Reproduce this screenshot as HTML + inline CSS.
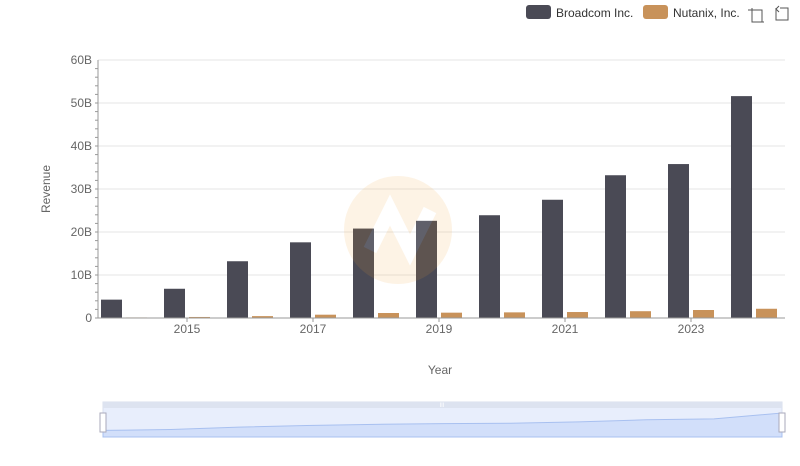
<!DOCTYPE html>
<html><head><meta charset="utf-8"><style>
body{margin:0;background:#fff;font-family:"Liberation Sans",sans-serif}
svg text{font-family:"Liberation Sans",sans-serif}
</style></head><body>
<svg width="800" height="461">
<g>
<g><rect x="526" y="5" width="25" height="14" rx="3" fill="#4a4a55"/><text x="556" y="17" font-size="12" fill="#333">Broadcom Inc.</text></g>
<g><rect x="643" y="5" width="25" height="14" rx="3" fill="#c8925a"/><text x="673" y="17" font-size="12" fill="#333">Nutanix, Inc.</text></g>
</g>
<g stroke="#555" fill="none"><path d="M748 10h14v12M752 8v14h12"/></g>
<g stroke="#555" fill="none"><path d="M776 8v12h12V8h-8M779 6l-3 3 3 3"/></g>
<g id="grid"></g>
<g id="yaxis"></g>
<g id="bars"></g>
<g id="xaxis"></g>
<text x="50" y="189" font-size="12" fill="#666" text-anchor="middle" transform="rotate(-90 50 189)">Revenue</text>
<text x="440" y="374" font-size="12" fill="#666" text-anchor="middle">Year</text>
<g opacity="0.12"><circle cx="398" cy="230" r="54" fill="#f0a030"/><path d="M370 250l20-40 20 40 20-40" stroke="#fff" stroke-width="14" fill="none"/></g>
<g>
<rect x="103" y="402" width="679" height="35" fill="#e8eefc" stroke="#d8dfee"/>
<rect x="103" y="402" width="679" height="6" fill="#dde3f0"/>
<path id="minipath" fill="#d2dffa" stroke="#a8c0f0"/>
<text x="442" y="407" font-size="6" fill="#fff" text-anchor="middle">III</text>
<rect x="100" y="413" width="6" height="19" fill="#fff" stroke="#aab"/>
<rect x="779" y="413" width="6" height="19" fill="#fff" stroke="#aab"/>
</g>
</svg>
<script>
const years=["2014","2015","2016","2017","2018","2019","2020","2021","2022","2023","2024"];
const broadcom=[4.27,6.8,13.2,17.6,20.8,22.6,23.9,27.5,33.2,35.8,51.6];
const nutanix=[0.13,0.24,0.44,0.77,1.16,1.24,1.31,1.39,1.58,1.86,2.15];
const yTicks=[0,10,20,30,40,50,60];
const yTickLabels=["0","10B","20B","30B","40B","50B","60B"];
const NS="http://www.w3.org/2000/svg";
const y=v=>318-v*4.3;
const bx=i=>98+i*63;
function mk(t,a,p){const e=document.createElementNS(NS,t);for(const k in a)e.setAttribute(k,a[k]);p.appendChild(e);return e;}
const grid=document.getElementById('grid'),ya=document.getElementById('yaxis'),bars=document.getElementById('bars'),xa=document.getElementById('xaxis');
yTicks.forEach((v,i)=>{
 if(v>0){const g=mk('line',{x1:98,x2:785,y1:y(v),y2:y(v),stroke:'#e6e6e6'},grid);
 
 }
 const t=mk('text',{x:92,y:y(v)+4,'font-size':12,fill:'#666','text-anchor':'end'},ya);t.textContent=yTickLabels[i];
 
 
});
for(let v=0;v<60;v+=2){mk('line',{x1:95,x2:98,y1:y(v),y2:y(v),stroke:'#999'},ya);}
mk('line',{x1:98,x2:98,y1:60,y2:318,stroke:'#999'},ya);
years.forEach((yr,i)=>{
 const b=mk('rect',{x:bx(i)+3,y:y(broadcom[i]),width:21,height:318-y(broadcom[i]),fill:'#4a4a55'},bars);
 
 
 const n=mk('rect',{x:bx(i)+28,y:y(nutanix[i]),width:21,height:318-y(nutanix[i]),fill:'#c8925a'},bars);
 
 
 if(i%2==1){const t=mk('text',{x:bx(i)+26,y:333,'font-size':12,fill:'#666','text-anchor':'middle'},xa);t.textContent=yr;
 
 
 mk('line',{x1:bx(i)+26,x2:bx(i)+26,y1:318,y2:322,stroke:'#999'},xa);}
});
mk('line',{x1:98,x2:785,y1:318,y2:318,stroke:'#999'},xa);
const mx=i=>103+i*679/10,my=v=>432-v/51.6*19;
let d='M103 437';years.forEach((_,i)=>d+=' L'+mx(i)+' '+my(broadcom[i]));d+=' L782 437Z';
document.getElementById('minipath').setAttribute('d',d);
</script>
</body></html>
